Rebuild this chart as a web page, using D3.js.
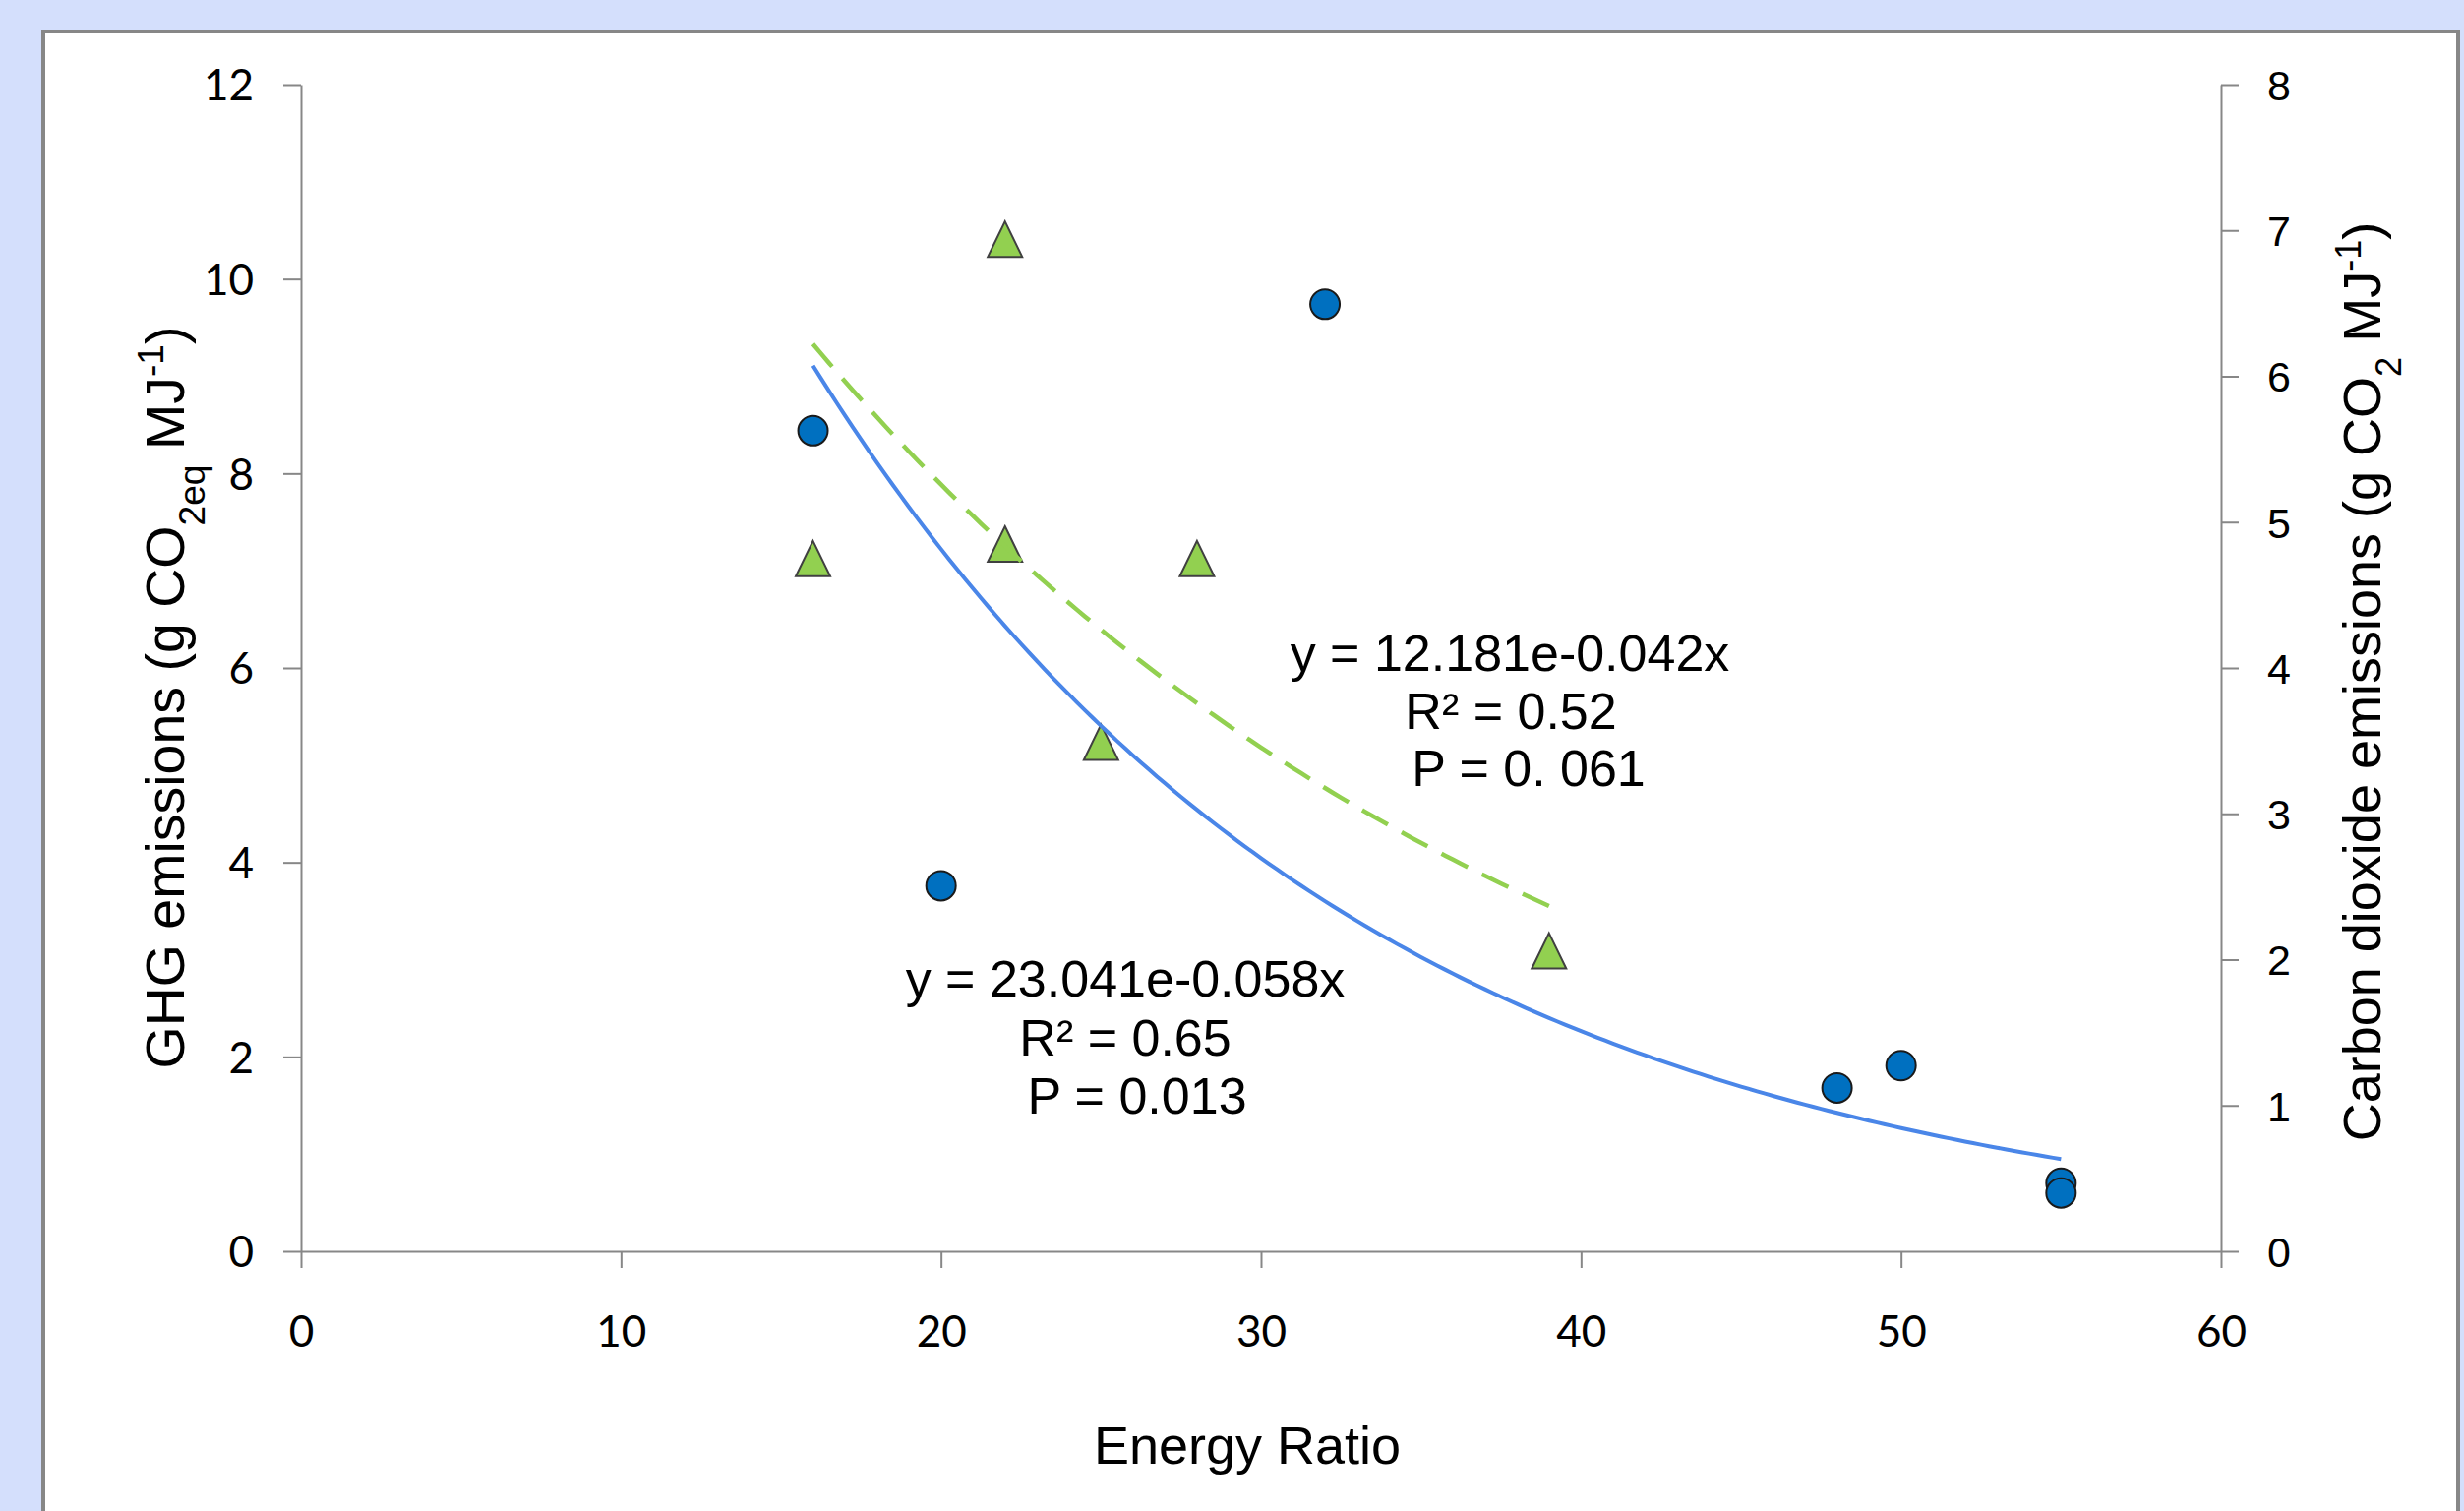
<!DOCTYPE html>
<html>
<head>
<meta charset="utf-8">
<script src="https://cdn.jsdelivr.net/npm/d3@7"></script>
<style>
	html, body { margin: 0; padding: 0; background: #d4dffc; }
	svg { display: block; }
</style>
</head>
<body>
<div id="chart"></div>
<script>

/*------Data------*/
// GHG emissions (left axis) against energy ratio
const ghgX = [16, 20, 32, 48, 50, 55, 55];
const ghgY = [8.44, 3.76, 9.74, 1.68, 1.91, 0.70, 0.60];

// CO2 emissions (right axis) against energy ratio
const co2X = [16, 22, 22, 25, 28, 39];
const co2Y = [4.75, 6.94, 4.85, 3.49, 4.75, 2.06];

// exponential trends y = a*e^(b*x), as printed on the chart
const ghgFit = {a: 23.041, b: -0.058, from: 16, to: 55};
const co2Fit = {a: 12.181, b: -0.042, from: 16, to: 39};

const ghgLabel = ["y = 23.041e-0.058x", "R² = 0.65", "P = 0.013"];
const co2Label = ["y = 12.181e-0.042x", "R² = 0.52", "P = 0. 061"];

const xTicks = [0, 10, 20, 30, 40, 50, 60];
const yLeftTicks = [0, 2, 4, 6, 8, 10, 12];
const yRightTicks = [0, 1, 2, 3, 4, 5, 6, 7, 8];


/*------Layout------*/
const width = 2505, height = 1536;
const plotLeft = 306, plotRight = 2258, plotTop = 86, plotBottom = 1272;
const axisColor = "#878787";
const arial = "'Liberation Sans', Arial, sans-serif";
const calibri = "Lato, 'Open Sans', sans-serif";

const svg = d3.select("#chart")
	.append("svg")
	.attr("width", width)
	.attr("height", height);

svg.append("rect")
	.attr("width", width).attr("height", height)
	.attr("fill", "#d4dffc");

// white chart area with grey frame (runs off the bottom edge)
svg.append("rect")
	.attr("x", 44).attr("y", 32)
	.attr("width", 2455).attr("height", 1600)
	.attr("fill", "#ffffff")
	.attr("stroke", axisColor)
	.attr("stroke-width", 4);


/*-----Scales-----*/
var x = d3.scaleLinear().domain([0, 60]).range([plotLeft, plotRight]);
var yL = d3.scaleLinear().domain([0, 12]).range([plotBottom, plotTop]);
var yR = d3.scaleLinear().domain([0, 8]).range([plotBottom, plotTop]);


/*-----Axes-----*/
function styleAxis(g){
	g.selectAll("path, line").attr("stroke", axisColor).attr("stroke-width", 2);
	g.selectAll("text").attr("fill", "#000");
}

svg.append("g")
	.attr("transform", "translate(0," + plotBottom + ")")
	.call(d3.axisBottom(x).tickValues(xTicks).tickSize(17).tickSizeOuter(0).tickFormat(d3.format("d")))
	.call(styleAxis)
	.call(g => g.selectAll("text")
		.attr("y", 97).attr("dy", null)
		.style("font-family", calibri).style("font-size", "44px"));

svg.append("g")
	.attr("transform", "translate(" + plotLeft + ",0)")
	.call(d3.axisLeft(yL).tickValues(yLeftTicks).tickSize(18).tickSizeOuter(0).tickFormat(d3.format("d")))
	.call(styleAxis)
	.call(g => g.selectAll("text")
		.attr("x", -48).attr("dy", "0.36em")
		.style("font-family", calibri).style("font-size", "44px"));

svg.append("g")
	.attr("transform", "translate(" + plotRight + ",0)")
	.call(d3.axisRight(yR).tickValues(yRightTicks).tickSize(18).tickSizeOuter(0).tickFormat(d3.format("d")))
	.call(styleAxis)
	.call(g => g.selectAll("text")
		.attr("x", 47).attr("dy", "0.36em")
		.style("font-family", arial).style("font-size", "43px"));


/*-----Axis titles-----*/
svg.append("text")
	.attr("x", 1268).attr("y", 1488)
	.attr("text-anchor", "middle")
	.style("font-family", arial).style("font-size", "54px")
	.text("Energy Ratio");

function axisTitle(cx, cy, size, before, sub){
	var t = svg.append("text")
		.attr("transform", "translate(" + cx + "," + cy + ") rotate(-90)")
		.attr("text-anchor", "middle")
		.style("font-family", arial).style("font-size", size + "px");
	t.append("tspan").text(before);
	t.append("tspan").attr("baseline-shift", "sub").style("font-size", (size * 0.67) + "px").text(sub);
	t.append("tspan").text(" MJ");
	t.append("tspan").attr("baseline-shift", "super").style("font-size", (size * 0.67) + "px").text("-1");
	t.append("tspan").text(")");
}
axisTitle(187, 709, 55.5, "GHG emissions (g CO", "2eq");
axisTitle(2420, 693, 54, "Carbon dioxide emissions (g CO", "2");


/*-----Trend lines-----*/
function trendPoints(fit){
	var pts = [];
	for (let v = fit.from; v <= fit.to + 1e-9; v += 0.25){
		pts.push([v, fit.a * Math.exp(fit.b * v)]);
	}
	return pts;
}

const marker_g = svg.append("g");
const line_g = svg.append("g");

line_g.append("path")
	.datum(trendPoints(ghgFit))
	.attr("d", d3.line().x(d => x(d[0])).y(d => yL(d[1])))
	.attr("fill", "none")
	.attr("stroke", "#4a86e8")
	.attr("stroke-width", 4);

line_g.append("path")
	.datum(trendPoints(co2Fit))
	.attr("d", d3.line().x(d => x(d[0])).y(d => yR(d[1])))
	.attr("fill", "none")
	.attr("stroke", "#92d050")
	.attr("stroke-width", 4.5)
	.attr("stroke-dasharray", "30,16");


/*-----Markers-----*/
marker_g.selectAll("circle")
	.data(d3.range(ghgX.length))
	.enter().append("circle")
	.attr("cx", i => x(ghgX[i]))
	.attr("cy", i => yL(ghgY[i]))
	.attr("r", 15)
	.attr("fill", "#0070c0")
	.attr("stroke", "#1a1a1a")
	.attr("stroke-width", 2);

marker_g.selectAll("path")
	.data(d3.range(co2X.length))
	.enter().append("path")
	.attr("d", "M0,-18L17.5,18L-17.5,18Z")
	.attr("transform", i => "translate(" + x(co2X[i]) + "," + yR(co2Y[i]) + ")")
	.attr("fill", "#92d050")
	.attr("stroke", "#404040")
	.attr("stroke-width", 2);


/*-----Equation labels-----*/
function equation(lines, xs, y0, step){
	svg.append("g").selectAll("text")
		.data(lines)
		.enter().append("text")
		.attr("x", (d, i) => xs[i])
		.attr("y", (d, i) => y0 + i * step)
		.attr("text-anchor", "middle")
		.style("font-family", arial).style("font-size", "52px")
		.text(d => d);
}
equation(ghgLabel, [1144, 1144, 1156], 1013, 59.5);
equation(co2Label, [1535, 1536, 1554], 682, 58.5);

</script>
</body>
</html>
